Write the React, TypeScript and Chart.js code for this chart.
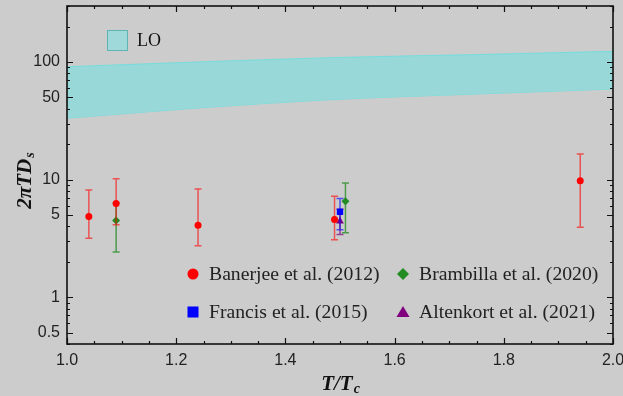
import React, { useEffect, useRef } from "react";
import { Chart, registerables } from "chart.js";
Chart.register(...registerables);

// LO band (T/Tc, lower and upper edge of 2πTDs)
const loT = [1.0, 1.25, 1.5, 1.75, 2.0];
const loUpper = [91.3, 100.6, 109.6, 115.8, 123.4];
const loLower = [33.3, 41.0, 48.3, 53.5, 59.0];

// Banerjee et al. (2012)
const banerjeeT = [1.04, 1.09, 1.24, 1.49, 1.94];
const banerjeeV = [4.86, 6.26, 4.1, 4.58, 9.81];
const banerjeeLo = [3.18, 4.13, 2.74, 3.08, 3.94];
const banerjeeHi = [8.18, 10.2, 8.34, 7.22, 16.5];

// Brambilla et al. (2020)
const brambillaT = [1.09, 1.51];
const brambillaV = [4.49, 6.55];
const brambillaLo = [2.42, 3.53];
const brambillaHi = [6.3, 9.37];

// Francis et al. (2015)
const francisT = [1.5];
const francisV = [5.33];
const francisLo = [3.75];
const francisHi = [6.9];

// Altenkort et al. (2021)
const altenkortT = [1.5];
const altenkortV = [4.43];
const altenkortLo = [3.42];
const altenkortHi = [5.6];

const yTickValues = [0.5, 1, 5, 10, 50, 100];
const xTickLabels = ["1.0", "1.2", "1.4", "1.6", "1.8", "2.0"];

const pts = (xs: number[], ys: number[]) => xs.map((x, i) => ({ x, y: ys[i] }));

const errorBarPlugin = {
  id: "errorBars",
  beforeDatasetDraw(chart: any, args: any) {
    const ds = chart.data.datasets[args.index];
    if (!ds.errLo) return;
    const { ctx, scales } = chart;
    ctx.save();
    ctx.strokeStyle = ds.errColor;
    ctx.lineWidth = 1.5;
    ds.data.forEach((p: any, i: number) => {
      const x = scales.x.getPixelForValue(p.x);
      const y1 = scales.y.getPixelForValue(ds.errLo[i]);
      const y2 = scales.y.getPixelForValue(ds.errHi[i]);
      ctx.beginPath();
      ctx.moveTo(x, y1);
      ctx.lineTo(x, y2);
      ctx.moveTo(x - 3.5, y1);
      ctx.lineTo(x + 3.5, y1);
      ctx.moveTo(x - 3.5, y2);
      ctx.lineTo(x + 3.5, y2);
      ctx.stroke();
    });
    ctx.restore();
  },
};

const framePlugin = {
  id: "frame",
  afterDraw(chart: any) {
    const { ctx, chartArea: a, scales } = chart;
    ctx.save();
    ctx.strokeStyle = "#111";
    ctx.lineWidth = 1.2;
    // y ticks
    const ymin = scales.y.min, ymax = scales.y.max;
    const yMinor: number[] = [];
    [0.1, 1, 10, 100].forEach((d) => {
      for (let m = 1; m <= 9; m++) {
        const v = m * d;
        if (v >= ymin && v <= ymax && !yTickValues.includes(+v.toFixed(3))) yMinor.push(v);
      }
    });
    const drawY = (v: number, len: number) => {
      const y = Math.round(scales.y.getPixelForValue(v)) + 0.5;
      ctx.beginPath();
      ctx.moveTo(a.left, y);
      ctx.lineTo(a.left + len, y);
      ctx.moveTo(a.right, y);
      ctx.lineTo(a.right - len, y);
      ctx.stroke();
    };
    yTickValues.forEach((v) => drawY(v, 6));
    yMinor.forEach((v) => drawY(v, 3));
    // x ticks
    for (let k = 0; k <= 20; k++) {
      const v = 1 + k * 0.05;
      const len = k % 4 === 0 ? 6 : 3;
      const x = Math.round(scales.x.getPixelForValue(v)) + 0.5;
      ctx.beginPath();
      ctx.moveTo(x, a.bottom);
      ctx.lineTo(x, a.bottom - len);
      ctx.moveTo(x, a.top);
      ctx.lineTo(x, a.top + len);
      ctx.stroke();
    }
    ctx.lineWidth = 1.6;
    ctx.strokeRect(a.left, a.top, a.right - a.left, a.bottom - a.top);

    // axis titles
    ctx.fillStyle = "#111";
    ctx.textBaseline = "alphabetic";
    const big = "italic bold 21px 'Liberation Serif'";
    const small = "italic bold 14px 'Liberation Serif'";
    // x title
    ctx.font = big;
    const xt = "T/T";
    const wMain = ctx.measureText(xt).width;
    ctx.font = small;
    const wSub = ctx.measureText("c").width;
    let xs = (a.left + a.right) / 2 - (wMain + wSub) / 2;
    ctx.font = big;
    ctx.fillText(xt, xs, 390);
    ctx.font = small;
    ctx.fillText("c", xs + wMain + 1, 393);
    // y title
    ctx.save();
    ctx.translate(31, (a.top + a.bottom) / 2 + 6);
    ctx.rotate(-Math.PI / 2);
    ctx.font = big;
    const yt = "2πTD";
    const wy = ctx.measureText(yt).width;
    ctx.font = small;
    const wys = ctx.measureText("s").width;
    const ys0 = -(wy + wys) / 2;
    ctx.font = big;
    ctx.fillText(yt, ys0, 0);
    ctx.font = small;
    ctx.fillText("s", ys0 + wy + 1, 3);
    ctx.restore();

    // legends
    ctx.fillStyle = "#9fd9d9";
    ctx.fillRect(107, 30, 20, 20);
    ctx.strokeStyle = "#5fb3b3";
    ctx.lineWidth = 1;
    ctx.strokeRect(107.5, 30.5, 20, 20);
    ctx.fillStyle = "#111";
    ctx.font = "18px 'Liberation Serif'";
    ctx.textBaseline = "middle";
    ctx.fillText("LO", 137, 41);

    const items = [
      { label: "Banerjee et al. (2012)", x: 193, y: 274, style: "circle", color: "#ff0000" },
      { label: "Brambilla et al. (2020)", x: 403, y: 274, style: "rectRot", color: "#228b22" },
      { label: "Francis et al. (2015)", x: 193, y: 312, style: "rect", color: "#0000ff" },
      { label: "Altenkort et al. (2021)", x: 403, y: 312, style: "triangle", color: "#800080" },
    ];
    items.forEach((it) => {
      ctx.fillStyle = it.color;
      ctx.beginPath();
      if (it.style === "circle") {
        ctx.arc(it.x, it.y, 5.5, 0, Math.PI * 2);
      } else if (it.style === "rect") {
        ctx.rect(it.x - 5.5, it.y - 5.5, 11, 11);
      } else if (it.style === "rectRot") {
        ctx.moveTo(it.x, it.y - 6);
        ctx.lineTo(it.x + 6, it.y);
        ctx.lineTo(it.x, it.y + 6);
        ctx.lineTo(it.x - 6, it.y);
        ctx.closePath();
      } else {
        ctx.moveTo(it.x, it.y - 6);
        ctx.lineTo(it.x + 6.5, it.y + 5);
        ctx.lineTo(it.x - 6.5, it.y + 5);
        ctx.closePath();
      }
      ctx.fill();
      ctx.fillStyle = "#222";
      ctx.font = "19.7px 'Liberation Serif'";
      ctx.fillText(it.label, it.x + 16, it.y + 1);
    });
    ctx.restore();
  },
};

export default function App() {
  const ref = useRef<HTMLCanvasElement>(null);
  useEffect(() => {
    const tickFont = { family: "'Liberation Sans'", size: 16 };
    const chart = new Chart(ref.current!, {
      type: "scatter",
      data: {
        datasets: [
          {
            type: "line",
            label: "LO upper",
            data: pts(loT, loUpper),
            borderColor: "rgba(110,222,222,0.9)",
            borderWidth: 1,
            backgroundColor: "#99d8d8",
            fill: "+1",
            pointRadius: 0,
            cubicInterpolationMode: "monotone",
          },
          {
            type: "line",
            label: "LO lower",
            data: pts(loT, loLower),
            borderColor: "rgba(110,222,222,0.9)",
            borderWidth: 1,
            fill: false,
            pointRadius: 0,
            cubicInterpolationMode: "monotone",
          },
          {
            label: "Banerjee et al. (2012)",
            data: pts(banerjeeT, banerjeeV),
            errLo: banerjeeLo,
            errHi: banerjeeHi,
            errColor: "rgba(255,0,0,0.6)",
            pointStyle: "circle",
            pointRadius: 3.5,
            backgroundColor: "#ff0000",
            borderWidth: 0,
          },
          {
            label: "Brambilla et al. (2020)",
            data: pts(brambillaT, brambillaV),
            errLo: brambillaLo,
            errHi: brambillaHi,
            errColor: "rgba(34,139,34,0.75)",
            pointStyle: "rectRot",
            pointRadius: 4,
            backgroundColor: "#228b22",
            borderWidth: 0,
          },
          {
            label: "Francis et al. (2015)",
            data: pts(francisT, francisV),
            errLo: francisLo,
            errHi: francisHi,
            errColor: "rgba(0,0,255,0.6)",
            pointStyle: "rect",
            pointRadius: 4.5,
            backgroundColor: "#0000ff",
            borderWidth: 0,
          },
          {
            label: "Altenkort et al. (2021)",
            data: pts(altenkortT, altenkortV),
            errLo: altenkortLo,
            errHi: altenkortHi,
            errColor: "rgba(128,0,128,0.7)",
            pointStyle: "triangle",
            pointRadius: 4.5,
            backgroundColor: "#800080",
            borderWidth: 0,
          },
        ] as any,
      },
      options: {
        animation: false,
        responsive: true,
        maintainAspectRatio: false,
        layout: { padding: { top: 6, right: 10, left: 0, bottom: 0 } },
        plugins: { legend: { display: false }, tooltip: { enabled: false } },
        scales: {
          x: {
            type: "linear",
            min: 1,
            max: 2,
            grid: { display: false, drawTicks: false },
            border: { display: false },
            ticks: {
              stepSize: 0.2,
              padding: 7,
              color: "#222",
              font: tickFont,
              maxRotation: 0,
              callback: (v: any) => {
                const i = Math.round((Number(v) - 1) / 0.2);
                return xTickLabels[i] ?? "";
              },
            },
            afterFit: (s: any) => {
              s.height = 52;
              s.paddingLeft = 0;
              s.paddingRight = 0;
            },
          },
          y: {
            type: "logarithmic",
            min: 0.4,
            max: 300,
            grid: { display: false, drawTicks: false },
            border: { display: false },
            ticks: {
              padding: 7,
              color: "#222",
              font: tickFont,
              callback: (v: any) => String(v),
            },
            afterBuildTicks: (s: any) => {
              s.ticks = yTickValues.map((v) => ({ value: v }));
            },
            afterFit: (s: any) => {
              s.width = 67;
              s.paddingTop = 0;
              s.paddingBottom = 0;
            },
          },
        },
      },
      plugins: [errorBarPlugin, framePlugin],
    });
    return () => chart.destroy();
  }, []);
  return (
    <div
      style={{
        position: "fixed",
        left: 0,
        top: 0,
        width: 623,
        height: 396,
        background: "#cccccc",
      }}
    >
      <canvas ref={ref} />
    </div>
  );
}
